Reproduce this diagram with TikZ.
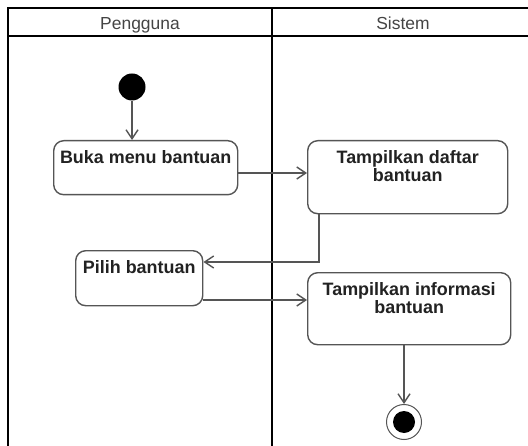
\documentclass[tikz,border=0pt]{standalone}
\usepackage{fontspec}
\setmainfont{Liberation Sans}
\usetikzlibrary{arrows.meta,calc}
\definecolor{edgegray}{HTML}{555555}
\definecolor{headgray}{HTML}{444444}
\definecolor{labelink}{HTML}{222222}
\tikzset{
  lane/.style={line width=2.6bp, black},
  actbox/.style={draw=edgegray, line width=1.4bp, rounded corners=10bp,
    rectangle, inner sep=0pt, anchor=north west},
  acttext/.style={font=\fontsize{18}{18.5}\selectfont\bfseries, text=labelink,
    align=center, inner sep=0pt, anchor=north},
  headtext/.style={font=\fontsize{17.5}{19}\selectfont, text=headgray, inner sep=0pt, anchor=base},
  flow/.style={draw=edgegray, line width=1.4bp,
    -{Straight Barb[length=9bp,width=12bp,line width=1.4bp]}},
}
\begin{document}
\begin{tikzpicture}[x=1bp,y=-1bp]
  \useasboundingbox (0,0) rectangle (528,446);
  \fill[white] (0,0) rectangle (528,446);

  % swimlane frame
  \draw[lane] (8,446) -- (8,8) -- (530,8);
  \draw[lane] (8,36) -- (530,36);
  \draw[lane] (272,8) -- (272,446);
  \node[headtext] (hUser) at (140,30) {Pengguna};
  \node[headtext] (hSys) at (403,30) {Sistem};

  % initial and final states
  \node[circle, fill=black, minimum size=27bp, inner sep=0pt] (start) at (132,87) {};
  \node[circle, draw=edgegray, line width=1bp, fill=white, minimum size=35bp, inner sep=0pt] (final) at (404,422) {};
  \node[circle, fill=black, minimum size=22bp, inner sep=0pt] (finalDot) at (404,422) {};

  % activities
  \node[actbox, minimum width=184bp, minimum height=54bp] (buka) at (53,140) {};
  \node[acttext] (bukaT) at ($(buka.north)+(0,10)$) {Buka menu bantuan};

  \node[actbox, minimum width=200bp, minimum height=73bp] (daftar) at (307,140) {};
  \node[acttext] (daftarT) at ($(daftar.north)+(0,10)$) {Tampilkan daftar\\bantuan};

  \node[actbox, minimum width=127bp, minimum height=55bp] (pilih) at (75,250) {};
  \node[acttext] (pilihT) at ($(pilih.north)+(0,10)$) {Pilih bantuan};

  \node[actbox, minimum width=203bp, minimum height=72bp] (info) at (307,272) {};
  \node[acttext] (infoT) at ($(info.north)+(0,10)$) {Tampilkan informasi\\bantuan};

  % control flow
  \draw[flow] (start) -- (start |- buka.north);
  \draw[flow] (buka.east |- 0,173) -- (daftar.west |- 0,173);
  \draw[flow] (daftar.south -| 319,0) |- (pilih.east |- 0,262);
  \draw[flow] (pilih.east |- 0,300) -- (info.west |- 0,300);
  \draw[flow] (info.south -| finalDot) -- (final.north);
\end{tikzpicture}
\end{document}
